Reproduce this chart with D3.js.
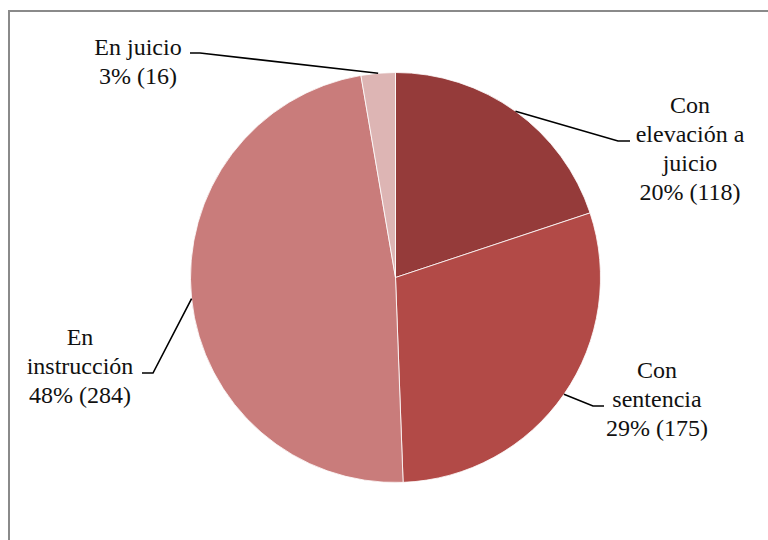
<!DOCTYPE html>
<html lang="es">
  <head>
    <meta charset="UTF-8" />
    <title>Causas por estado procesal</title>
    <script src="https://cdn.jsdelivr.net/npm/d3@7"></script>
    <style>
      body {
        margin: 0;
        background: #fff;
      }
      svg {
        display: block;
      }
      .lbl {
        font-family: "Liberation Serif", Tinos, "Noto Serif", "DejaVu Serif", FreeSerif, "Times New Roman", Times, serif;
      }
    </style>
  </head>

  <body>
    <div id="chart"></div>
    <script>
      // datos
      const categories = ["Con elevación a juicio", "Con sentencia", "En instrucción", "En juicio"];
      const values = [118, 175, 284, 16];
      const percents = ["20%", "29%", "48%", "3%"];
      // lineas de cada etiqueta (como en la hoja original)
      const labelLines = [
        ["Con", "elevación a", "juicio"],
        ["Con", "sentencia"],
        ["En", "instrucción"],
        ["En juicio"],
      ];
      const colors = ["#953b3a", "#b24a47", "#c97c7b", "#ddb5b4"];

      const width = 768;
      const height = 540;
      const cx = 395.5;
      const cy = 277.5;
      const radius = 205;
      const lineH = 29;

      // posicion manual de las etiquetas: centro x, primera linea y, codo de la guia
      const labelLayout = [
        { x: 690, y: 113, elbow: [618, 141], stub: 630 },
        { x: 657, y: 378, elbow: [593, 406], stub: 604 },
        { x: 80, y: 345, elbow: [153, 373], stub: 142 },
        { x: 138, y: 55, elbow: [200, 53], stub: 190 },
      ];

      const svg = d3
        .select("#chart")
        .append("svg")
        .attr("width", width)
        .attr("height", height);

      // marco del grafico (cortado a la derecha y abajo)
      svg
        .append("rect")
        .attr("x", 9)
        .attr("y", 11)
        .attr("width", 800)
        .attr("height", 600)
        .attr("fill", "none")
        .attr("stroke", "#8a8a8a")
        .attr("stroke-width", 2);

      const pie = d3.pie().sort(null).value((d) => d);
      const arcs = pie(values);

      const arc = d3.arc().innerRadius(0).outerRadius(radius);
      const edge = d3.arc().innerRadius(radius).outerRadius(radius);

      const g = svg.append("g").attr("transform", `translate(${cx},${cy})`);

      g.selectAll("path")
        .data(arcs)
        .enter()
        .append("path")
        .attr("d", arc)
        .attr("fill", (d, i) => colors[i])
        .attr("stroke", "#fff")
        .attr("stroke-width", 0.8);

      // lineas guia
      svg
        .selectAll("polyline")
        .data(arcs)
        .enter()
        .append("polyline")
        .attr("points", (d, i) => {
          const c = edge.centroid(d);
          const l = labelLayout[i];
          return [
            [cx + c[0], cy + c[1]],
            l.elbow,
            [l.stub, l.elbow[1]],
          ].join(" ");
        })
        .attr("fill", "none")
        .attr("stroke", "#000")
        .attr("stroke-width", 1.6);

      // etiquetas
      const labels = svg
        .selectAll("text.lbl")
        .data(arcs)
        .enter()
        .append("text")
        .attr("class", "lbl")
        .attr("font-size", 24)
        .attr("fill", "#111")
        .attr("text-anchor", "middle");

      labels.each(function (d, i) {
        const t = d3.select(this);
        const l = labelLayout[i];
        const lines = labelLines[i].concat(`${percents[i]} (${values[i]})`);
        lines.forEach((s, k) => {
          t.append("tspan")
            .attr("x", l.x)
            .attr("y", l.y + k * lineH)
            .text(s);
        });
      });
    </script>
  </body>
</html>
